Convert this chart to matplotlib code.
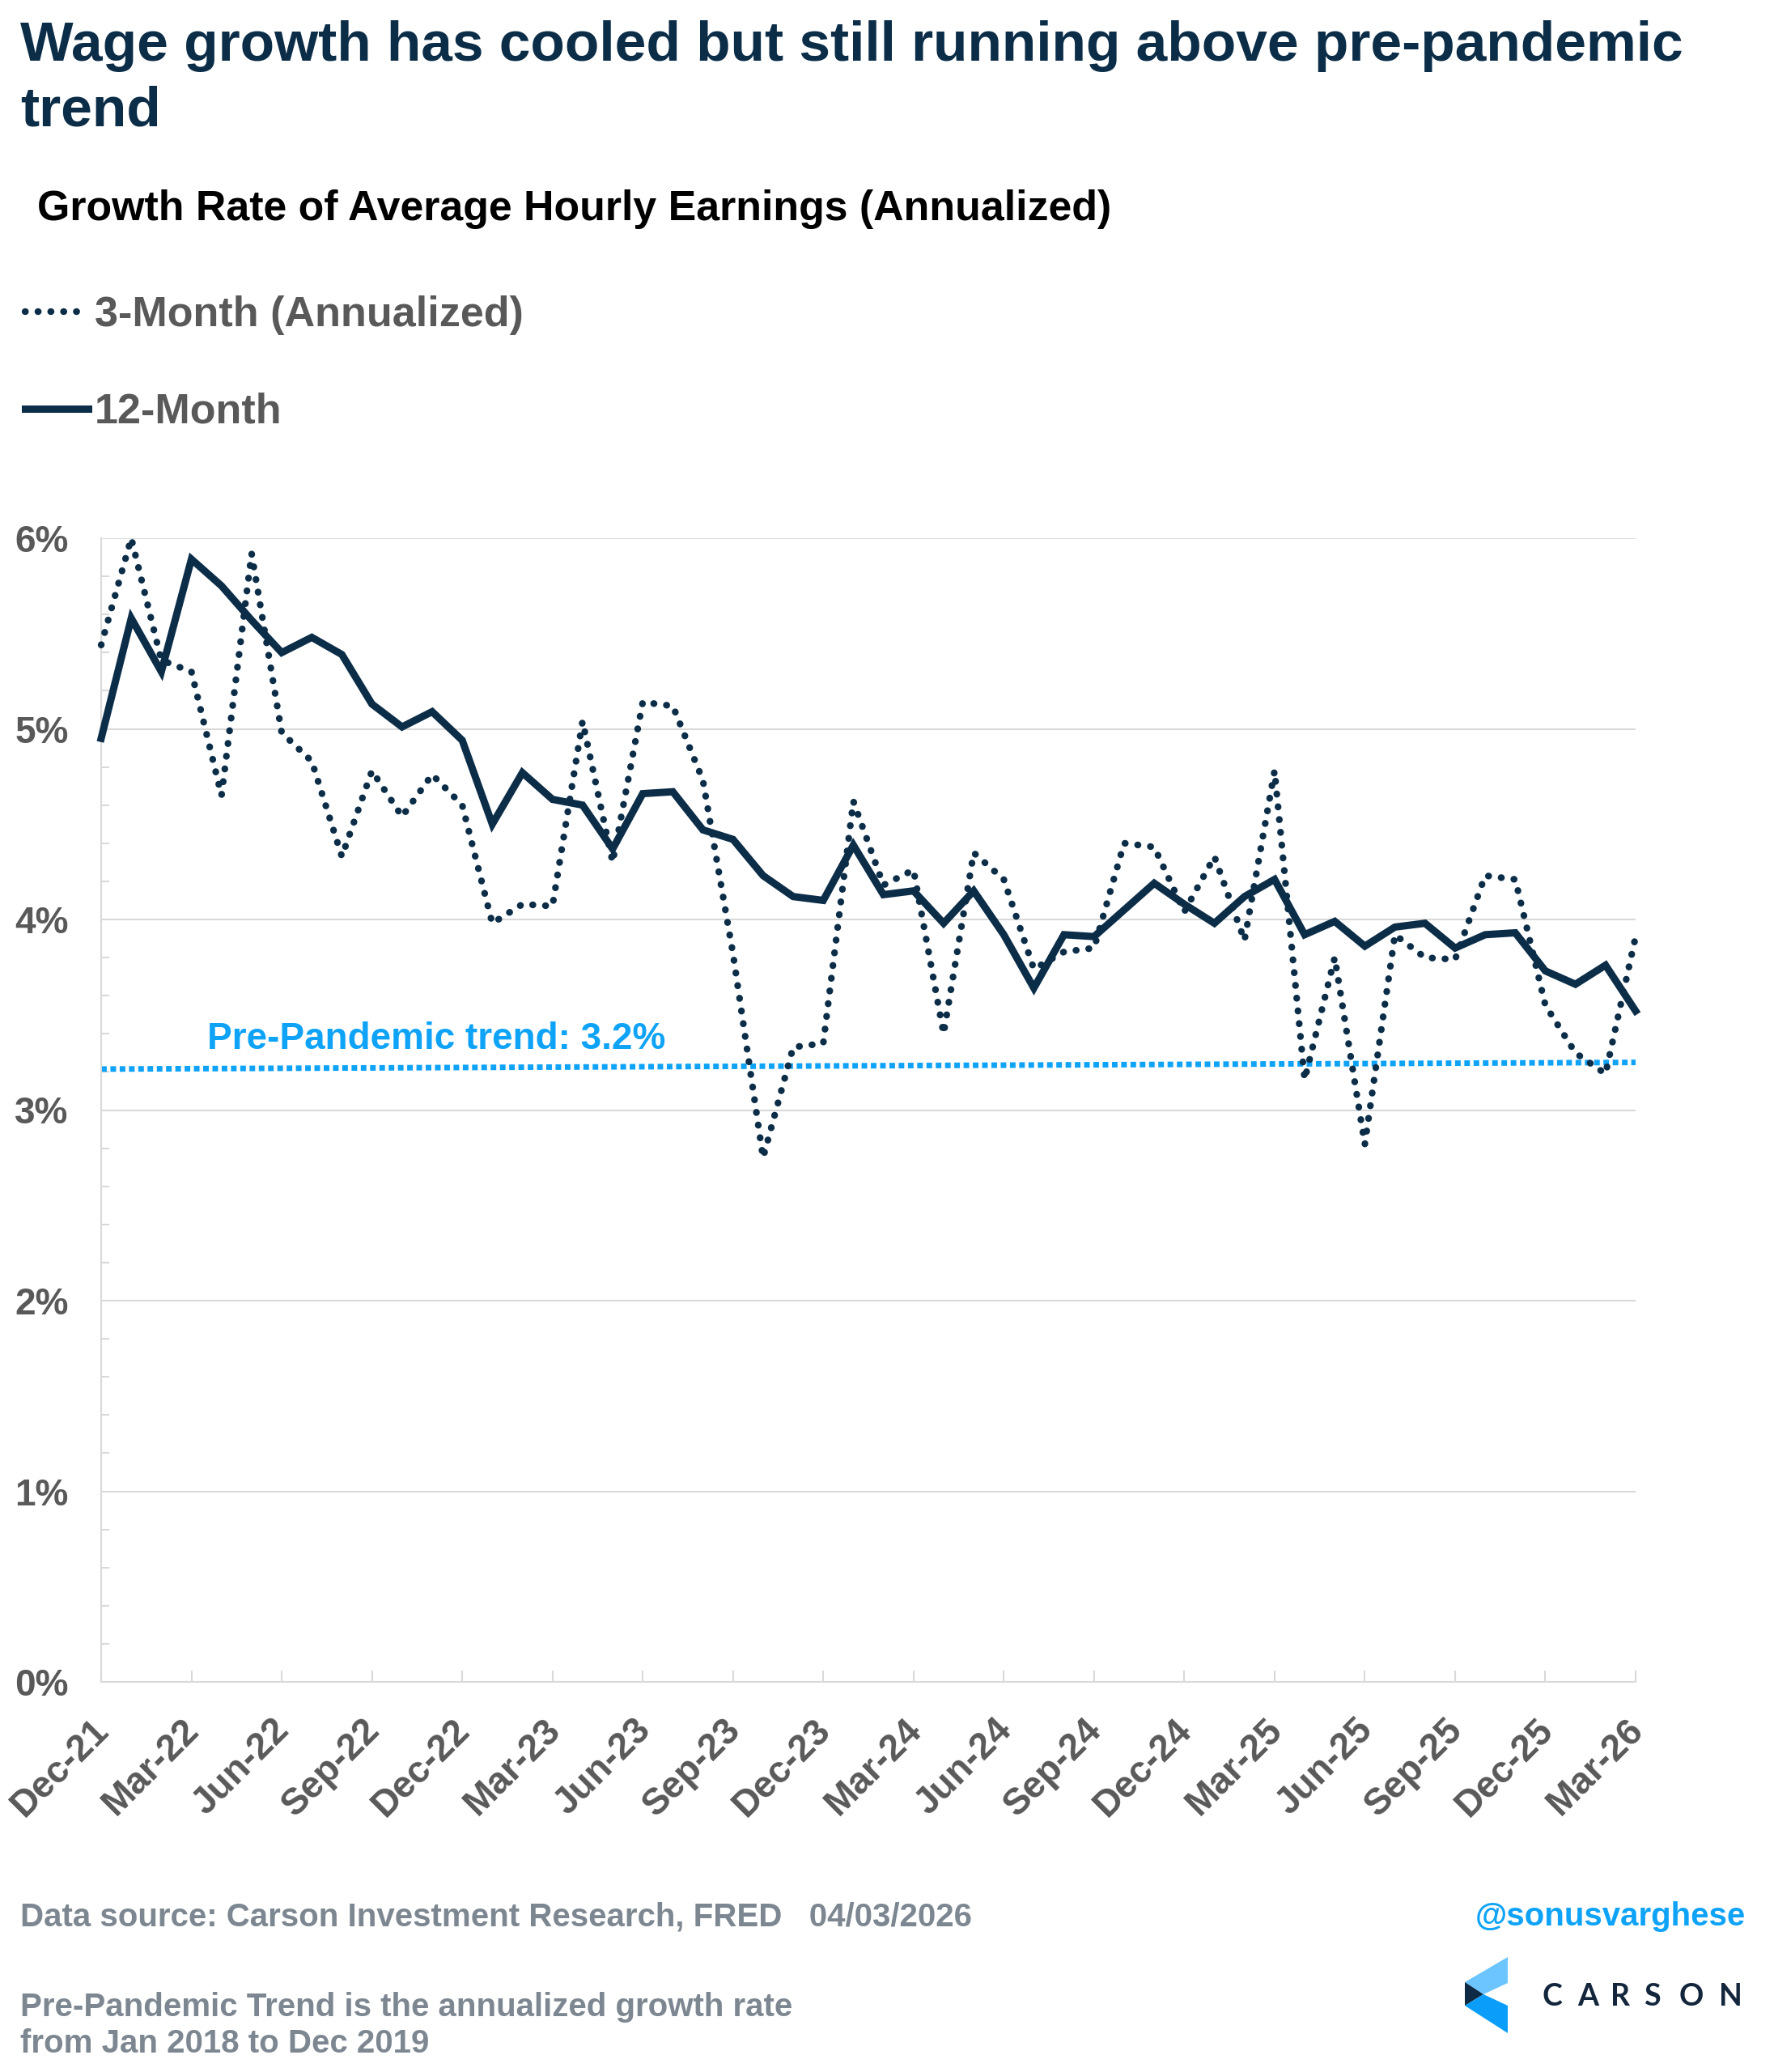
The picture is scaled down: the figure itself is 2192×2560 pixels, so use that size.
import matplotlib
matplotlib.use("Agg")
import matplotlib.pyplot as plt
from matplotlib.transforms import ScaledTranslation
from matplotlib.patches import Polygon
import numpy as np

plt.rcParams['font.family'] = ['Liberation Sans', 'DejaVu Sans']

# ---------------- data ----------------
tick_labels = ['Dec-21', 'Mar-22', 'Jun-22', 'Sep-22', 'Dec-22', 'Mar-23', 'Jun-23',
               'Sep-23', 'Dec-23', 'Mar-24', 'Jun-24', 'Sep-24', 'Dec-24', 'Mar-25',
               'Jun-25', 'Sep-25', 'Dec-25', 'Mar-26']

# monthly values, Dec-21 .. Mar-26
twelve_month = [4.95, 5.58, 5.30, 5.89, 5.75, 5.57, 5.40, 5.48, 5.39, 5.13,
                5.01, 5.09, 4.94, 4.50, 4.77, 4.63, 4.60, 4.37, 4.66, 4.67,
                4.47, 4.42, 4.23, 4.12, 4.10, 4.39, 4.13, 4.15, 3.98, 4.15,
                3.92, 3.64, 3.92, 3.91, 4.05, 4.19, 4.08, 3.98, 4.12, 4.21,
                3.92, 3.99, 3.86, 3.96, 3.98, 3.85, 3.92, 3.93, 3.73, 3.66,
                3.76, 3.52]

three_month = [5.44, 6.00, 5.36, 5.30, 4.65, 5.92, 4.98, 4.83, 4.33, 4.78,
               4.54, 4.76, 4.60, 3.98, 4.08, 4.07, 5.04, 4.30, 5.14, 5.12,
               4.73, 3.82, 2.75, 3.33, 3.35, 4.62, 4.18, 4.26, 3.40, 4.35,
               4.21, 3.74, 3.83, 3.85, 4.40, 4.38, 4.04, 4.33, 3.89, 4.78,
               3.16, 3.80, 2.82, 3.92, 3.80, 3.79, 4.23, 4.21, 3.55, 3.30,
               3.19, 3.91]

trend_ends = [3.215, 3.25]          # pre-pandemic trend line, first and last month
trend_label = 'Pre-Pandemic trend: 3.2%'

y_ticks = [0, 1, 2, 3, 4, 5, 6]

# ---------------- style ----------------
W, H = 2192, 2560
NAVY = '#0C2D48'
BLUE = '#0FA3F7'
GRAY = '#595959'
GRID = '#D9D9D9'
FOOT = '#7D8791'

fig = plt.figure(figsize=(W / 100, H / 100), dpi=100)
fig.patch.set_facecolor('white')

def fx(px):
    return px / W

def fy(py):
    return 1 - py / H

ax = fig.add_axes([fx(125), fy(2078), (2021 - 125) / W, (2078 - 665) / H])

x = np.arange(len(twelve_month))

l3, = ax.plot(x, three_month, color=NAVY, lw=6.0, linestyle=(0, (0.05, 1.85)),
              dash_capstyle='round', label='3-Month (Annualized)', zorder=3, clip_on=False)
l12, = ax.plot(x, twelve_month, color=NAVY, lw=6.5, solid_joinstyle='miter',
               label='12-Month', zorder=4, clip_on=False)
ax.plot([x[0], x[-1]], trend_ends, color=BLUE, lw=5.0, linestyle=(0, (1.0, 0.65)),
        dash_capstyle='butt', zorder=2)
ax.text(3.52, 3.32, trend_label, color=BLUE, fontsize=33, fontweight='bold',
        ha='left', va='baseline')

ax.set_xlim(0, len(twelve_month) - 1)
ax.set_ylim(0, 6)
ax.set_xticks(np.arange(0, len(twelve_month), 3))
ax.set_xticklabels(tick_labels, rotation=45, ha='right', va='center',
                   rotation_mode='anchor', fontweight='bold')
ax.set_yticks(y_ticks)
ax.set_yticklabels([f'{v}%' for v in y_ticks], fontweight='bold')
ax.set_yticks(np.arange(0, 6.01, 0.2), minor=True)

ax.tick_params(axis='y', which='major', length=0, pad=29, labelsize=33, labelcolor=GRAY)
ax.tick_params(axis='y', which='minor', direction='in', length=7, width=1.5, color=GRID)
ax.tick_params(axis='x', which='major', direction='in', length=10, width=1.5, color=GRID,
               labelsize=33, labelcolor=GRAY, pad=38)
for lab in ax.get_xticklabels():
    lab.set_transform(lab.get_transform() + ScaledTranslation(0.03, 0, fig.dpi_scale_trans))

ax.grid(axis='y', which='major', color=GRID, lw=1.5)
ax.set_axisbelow(True)
for s in ['top', 'right']:
    ax.spines[s].set_visible(False)
for s in ['left', 'bottom']:
    ax.spines[s].set_color(GRID)
    ax.spines[s].set_linewidth(1.5)

# ---------------- titles ----------------
fig.text(fx(25), fy(75), 'Wage growth has cooled but still running above pre-pandemic',
         color=NAVY, fontsize=50, fontweight='bold', va='baseline', ha='left')
fig.text(fx(25), fy(155), 'trend', color=NAVY, fontsize=50, fontweight='bold',
         va='baseline', ha='left')
fig.text(fx(46), fy(272), 'Growth Rate of Average Hourly Earnings (Annualized)',
         color='black', fontsize=37.4, fontweight='bold', va='baseline', ha='left')

fig.legend(handles=[l3, l12], loc='upper left', bbox_to_anchor=(fx(31), fy(365)),
           frameon=False, prop={'weight': 'bold', 'size': 37.5}, labelcolor=GRAY,
           handlelength=1.5, handletextpad=0.15, labelspacing=1.36,
           borderpad=0, borderaxespad=0)

# ---------------- footer ----------------
fig.text(fx(25), fy(2379), 'Data source: Carson Investment Research, FRED   04/03/2026',
         color=FOOT, fontsize=29, fontweight='bold', va='baseline', ha='left')
fig.text(fx(2157), fy(2379), '@sonusvarghese', color=BLUE, fontsize=29,
         fontweight='bold', va='baseline', ha='right')
fig.text(fx(25), fy(2491), 'Pre-Pandemic Trend is the annualized growth rate',
         color=FOOT, fontsize=29, fontweight='bold', va='baseline', ha='left')
fig.text(fx(25), fy(2536), 'from Jan 2018 to Dec 2019',
         color=FOOT, fontsize=29, fontweight='bold', va='baseline', ha='left')

# Carson logo
def poly(pts, color):
    fig.add_artist(Polygon([(fx(a), fy(b)) for a, b in pts], closed=True,
                           facecolor=color, edgecolor='none', transform=fig.transFigure))

poly([(1810, 2449), (1863, 2418), (1863, 2450), (1833, 2464)], '#6CC5FF')
poly([(1810, 2449), (1833, 2464), (1810, 2478)], '#0E2A45')
poly([(1810, 2478), (1833, 2464), (1863, 2478), (1863, 2512)], '#0A9EFA')
for letter, cx in zip('CARSON', [1918, 1962, 2002, 2041, 2090, 2138]):
    fig.text(fx(cx), fy(2478), letter, color='#13263C', fontsize=27,
             family=['Lato', 'DejaVu Sans'], fontweight='bold', ha='center', va='baseline')

fig.savefig('out.png', dpi=100, facecolor='white')
